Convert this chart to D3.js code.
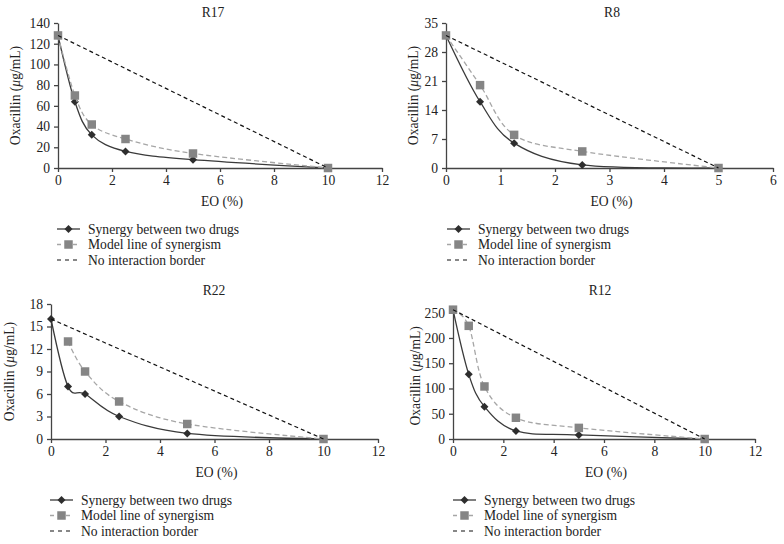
<!DOCTYPE html>
<html><head><meta charset="utf-8">
<script src="https://cdn.jsdelivr.net/npm/d3@7"></script>
<style>
body{margin:0;background:#fff;}
svg{display:block;}
text{font-family:"Liberation Serif","Times New Roman",serif;fill:#222;}
</style></head>
<body>
<svg id="c" width="784" height="544"></svg>
<script>
// ---- data ----
const titles = ["R17", "R8", "R22", "R12"];
const doses10 = [0, 0.625, 1.25, 2.5, 5, 10];
const doses5 = [0, 0.625, 1.25, 2.5, 5];
const dosesR22Model = [0.625, 1.25, 2.5, 5, 10];

const r17Synergy = [128, 64, 32, 16, 8, 0];
const r17Model = [128, 70, 42, 28, 14, 0];
const r17Border = [[0, 128], [10, 0]];

const r8Synergy = [32, 16, 6, 0.75, 0];
const r8Model = [32, 20, 8, 4, 0];
const r8Border = [[0, 32], [5, 0]];

const r22Synergy = [16, 7, 6, 3, 0.75, 0];
const r22Model = [13, 9, 5, 2, 0];
const r22Border = [[0, 16], [10, 0]];

const r12Synergy = [256, 128, 64, 16, 8, 0];
const r12Model = [256, 224, 104, 42, 22, 0];
const r12Border = [[0, 256], [10, 0]];

const xTicks10 = [0, 2, 4, 6, 8, 10, 12];
const xTicks5 = [0, 1, 2, 3, 4, 5, 6];
const yTicksR17 = [0, 20, 40, 60, 80, 100, 120, 140];
const yTicksR8 = [0, 7, 14, 21, 28, 35];
const yTicksR22 = [0, 3, 6, 9, 12, 15, 18];
const yTicksR12 = [0, 50, 100, 150, 200, 250];

const legendLabels = ["Synergy between two drugs", "Model line of synergism", "No interaction border"];
const xLabel = "EO (%)";

const zip = (xs, ys) => xs.map((x, i) => [x, ys[i]]);

const panels = [
  {title: titles[0], syn: zip(doses10, r17Synergy), model: zip(doses10, r17Model), border: r17Border,
   xDom: [0, 12], yDom: [0, 140], xTicks: xTicks10, yTicks: yTicksR17,
   xr: [58, 382], yr: [168, 23], titleX: 213, titleY: 17, xLabY: 206, yLabX: 20, legX: 57, legY: 229},
  {title: titles[1], syn: zip(doses5, r8Synergy), model: zip(doses5, r8Model), border: r8Border,
   xDom: [0, 6], yDom: [0, 35], xTicks: xTicks5, yTicks: yTicksR8,
   xr: [446, 773], yr: [168, 23], titleX: 612, titleY: 17, xLabY: 206, yLabX: 418, legX: 447, legY: 229},
  {title: titles[2], syn: zip(doses10, r22Synergy), model: zip(dosesR22Model, r22Model), border: r22Border,
   xDom: [0, 12], yDom: [0, 18], xTicks: xTicks10, yTicks: yTicksR22,
   xr: [51, 378], yr: [439, 304], titleX: 214, titleY: 295, xLabY: 477, yLabX: 14, legX: 50, legY: 500},
  {title: titles[3], syn: zip(doses10, r12Synergy), model: zip(doses10, r12Model), border: r12Border,
   xDom: [0, 12], yDom: [0, 250], xTicks: xTicks10, yTicks: yTicksR12,
   xr: [453, 755], yr: [439, 312.7], titleX: 600, titleY: 295, xLabY: 477, yLabX: 420, legX: 453, legY: 500}
];

const svg = d3.select("#c");
const synColor = "#3a3a3a", modelLine = "#a6a6a6", modelMark = "#858585", axisColor = "#444";
const FS = 13.6;
const diamond = d3.symbol().type(d3.symbolSquare).size(32);
const square = d3.symbol().type(d3.symbolSquare).size(72);

panels.forEach(p => {
  const x = d3.scaleLinear().domain(p.xDom).range(p.xr);
  const y = d3.scaleLinear().domain(p.yDom).range(p.yr);
  const g = svg.append("g");

  const ax = g.append("g").attr("transform", `translate(0,${p.yr[0]})`)
    .call(d3.axisBottom(x).tickValues(p.xTicks).tickFormat(d3.format("d")).tickSize(4).tickSizeOuter(0).tickPadding(3));
  const ay = g.append("g").attr("transform", `translate(${p.xr[0]},0)`)
    .call(d3.axisLeft(y).tickValues(p.yTicks).tickFormat(d3.format("d")).tickSize(4).tickSizeOuter(0).tickPadding(4));
  [ax, ay].forEach(a => {
    a.selectAll("path,line").attr("stroke", axisColor).attr("stroke-width", 1.3);
    a.selectAll("text").attr("font-size", FS).attr("font-family", "Liberation Serif").attr("fill", "#222");
  });

  g.append("text").attr("x", p.titleX).attr("y", p.titleY).attr("text-anchor", "middle")
    .attr("font-size", FS).text(p.title);
  g.append("text").attr("x", (p.xr[0] + p.xr[1]) / 2 + 2).attr("y", p.xLabY)
    .attr("text-anchor", "middle").attr("font-size", FS).text(xLabel);
  const yl = g.append("text").attr("transform", `translate(${p.yLabX},${(p.yr[0] + p.yr[1]) / 2}) rotate(-90)`)
    .attr("text-anchor", "middle").attr("font-size", FS);
  yl.append("tspan").text("Oxacillin (");
  yl.append("tspan").attr("font-style", "italic").text("μ");
  yl.append("tspan").text("g/mL)");

  const line = d3.line().x(d => x(d[0])).y(d => y(d[1])).curve(d3.curveCardinal.tension(0));
  const straight = d3.line().x(d => x(d[0])).y(d => y(d[1]));

  // synergy
  g.append("path").attr("d", line(p.syn)).attr("fill", "none").attr("stroke", synColor).attr("stroke-width", 1.3);
  g.selectAll(".dm").data(p.syn).join("path").attr("d", diamond)
    .attr("transform", d => `translate(${x(d[0])},${y(d[1])}) rotate(45)`).attr("fill", "#2e2e2e");
  // model
  g.append("path").attr("d", line(p.model)).attr("fill", "none").attr("stroke", modelLine)
    .attr("stroke-width", 1.3).attr("stroke-dasharray", "5,3");
  g.selectAll(".sq").data(p.model).join("path").attr("d", square)
    .attr("transform", d => `translate(${x(d[0])},${y(d[1])})`).attr("fill", modelMark);
  // border
  g.append("path").attr("d", straight(p.border)).attr("fill", "none").attr("stroke", "#111")
    .attr("stroke-width", 1.2).attr("stroke-dasharray", "4,3");

  // legend
  const lg = g.append("g").attr("transform", `translate(${p.legX},${p.legY})`);
  const dy = 15.5;
  legendLabels.forEach((lab, i) => {
    const yy = i * dy;
    if (i === 0) {
      lg.append("line").attr("x1", 0).attr("x2", 23).attr("y1", yy).attr("y2", yy).attr("stroke", synColor).attr("stroke-width", 1.3);
      lg.append("path").attr("d", diamond).attr("transform", `translate(11.5,${yy}) rotate(45)`).attr("fill", "#2e2e2e");
    } else if (i === 1) {
      lg.append("line").attr("x1", 0).attr("x2", 23).attr("y1", yy).attr("y2", yy).attr("stroke", modelLine).attr("stroke-width", 1.3).attr("stroke-dasharray", "4,4");
      lg.append("path").attr("d", square).attr("transform", `translate(11.5,${yy})`).attr("fill", modelMark);
    } else {
      lg.append("line").attr("x1", 0).attr("x2", 23).attr("y1", yy).attr("y2", yy).attr("stroke", "#111").attr("stroke-width", 1.2).attr("stroke-dasharray", "4,4");
    }
    lg.append("text").attr("x", 31).attr("y", yy + 4.5).attr("font-size", FS).text(lab);
  });
});
</script>
</body></html>
